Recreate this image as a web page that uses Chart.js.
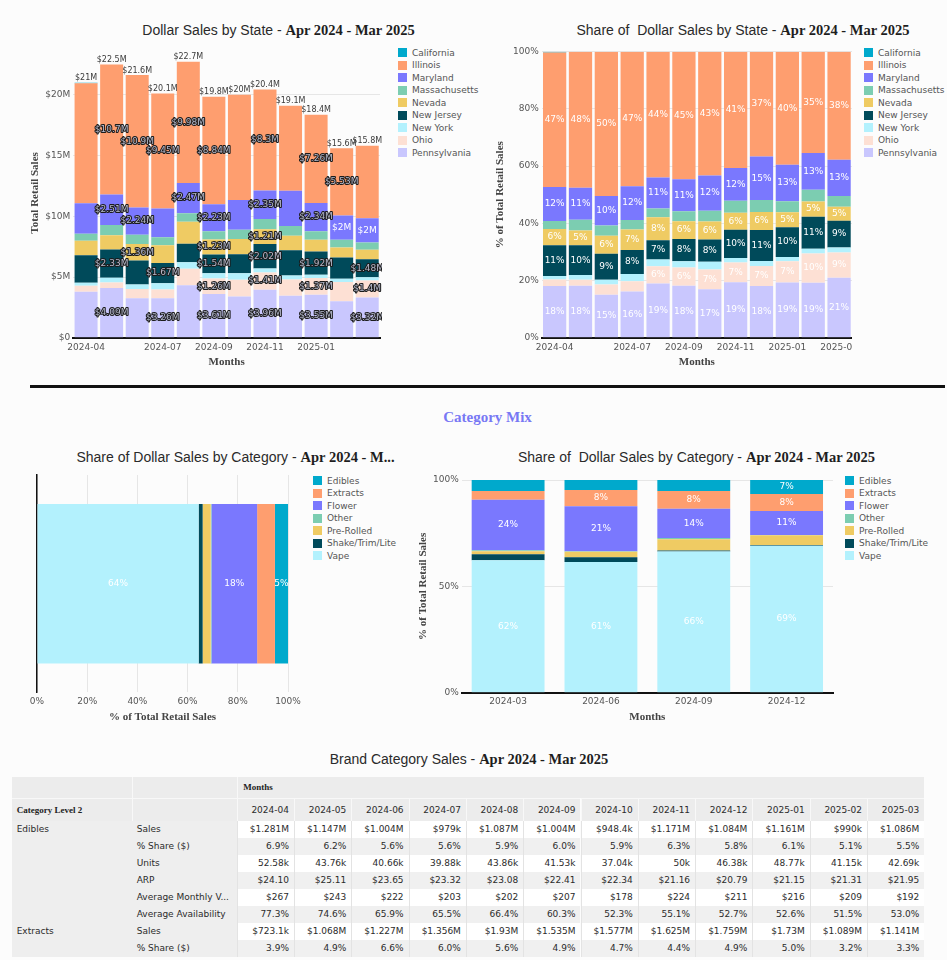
<!DOCTYPE html>
<html><head><meta charset="utf-8">
<script src="https://cdn.jsdelivr.net/npm/chart.js@4.4.1/dist/chart.umd.min.js"></script>
<style>
html,body{margin:0;padding:0;}
body{width:947px;height:960px;overflow:hidden;background:#fcfcfc;position:relative;font-family:'DejaVu Sans',sans-serif;}
.cv{position:absolute;}
.title{position:absolute;width:700px;text-align:center;white-space:pre;font-family:'Liberation Sans',Arial,sans-serif;font-size:14px;color:#2a2a2a;line-height:18px;}
.title b{font-family:'Liberation Serif','Times New Roman',serif;font-size:14.5px;font-weight:bold;color:#1e1e1e;}
.legend{position:absolute;font-family:'DejaVu Sans',sans-serif;font-size:9px;color:#555;}
.legend .li{height:12.5px;line-height:12.5px;white-space:nowrap;display:flex;align-items:center;}
.legend .sw{display:inline-block;width:9px;height:9px;margin-right:5px;flex:none;}
.cell{position:absolute;box-sizing:border-box;font-family:'DejaVu Sans',sans-serif;font-size:9px;color:#2b2b2b;white-space:nowrap;overflow:hidden;padding:0 5px;}
.serifb{font-family:'Liberation Serif','Times New Roman',serif;font-weight:bold;color:#222;}
</style>
</head><body>

<div class="title" style="left:-71.5px;top:20.5px;">Dollar Sales by State - <b>Apr 2024 - Mar 2025</b></div>
<div class="title" style="left:393px;top:20.5px;">Share of  Dollar Sales by State - <b>Apr 2024 - Mar 2025</b></div>
<div style="position:absolute;left:30px;top:385px;width:915px;height:3px;background:#111;"></div>
<div class="title" style="left:137.5px;top:408px;"><b style="font-size:15px;color:#7878f4;">Category Mix</b></div>
<div class="title" style="left:-114.5px;top:448px;">Share of Dollar Sales by Category - <b>Apr 2024 - M...</b></div>
<div class="title" style="left:346.5px;top:448px;">Share of  Dollar Sales by Category - <b>Apr 2024 - Mar 2025</b></div>
<div class="title" style="left:119px;top:750px;">Brand Category Sales - <b>Apr 2024 - Mar 2025</b></div>

<canvas id="c1" class="cv" width="357" height="333" style="left:25px;top:40px;"></canvas>
<canvas id="c2" class="cv" width="362" height="333" style="left:490px;top:40px;"></canvas>
<canvas id="c3" class="cv" width="305" height="258" style="left:0px;top:470px;"></canvas>
<canvas id="c4" class="cv" width="422" height="258" style="left:413px;top:470px;"></canvas>

<div id="lg1" class="legend" style="left:398px;top:46.5px;"></div>
<div id="lg2" class="legend" style="left:864px;top:46.5px;"></div>
<div id="lg3" class="legend" style="left:313px;top:474.5px;"></div>
<div id="lg4" class="legend" style="left:845px;top:474.5px;"></div>
<div id="tbl"></div>

<script>
// ---------- DATA ----------
const months = ['2024-04','2024-05','2024-06','2024-07','2024-08','2024-09','2024-10','2024-11','2024-12','2025-01','2025-02','2025-03'];
const monthTicksLeft = ['2024-04','2024-07','2024-09','2024-11','2025-01'];
const monthTicksRight = ['2024-04','2024-07','2024-09','2024-11','2025-01','2025-03'];

// Dollar sales by state, $M (legend order: top of stack first)
const stateNames = ['California','Illinois','Maryland','Massachusetts','Nevada','New Jersey','New York','Ohio','Pennsylvania'];
const california    = [0.06,0,0,0,0,0,0,0,0,0,0,0];
const illinois      = [9.87,10.7,10.9,9.45,9.98,8.84,8.65,8.3,7.0,7.26,5.53,5.97];
const maryland      = [2.50,2.51,2.24,2.38,2.47,2.23,2.46,2.35,2.90,2.34,2.0,2.0];
const massachusetts = [0.59,0.85,0.76,0.66,0.70,0.69,0.76,0.85,0.80,0.70,0.64,0.60];
const nevada        = [1.18,1.17,1.36,1.45,1.82,1.23,1.26,1.21,1.20,0.96,0.83,0.77];
const newJersey     = [2.27,2.33,1.97,1.67,1.52,1.54,1.56,2.02,2.08,1.92,1.75,1.48];
const newYork       = [0.25,0.38,0.37,0.51,0.54,0.44,0.53,0.33,0.32,0.26,0.25,0.27];
const ohio          = [0.48,0.47,0.76,0.72,1.36,1.26,1.38,1.41,1.34,1.37,1.6,1.4];
const pennsylvania  = [3.80,4.09,3.26,3.26,4.32,3.61,3.40,3.96,3.46,3.55,3.0,3.32];
const stateSales = [california,illinois,maryland,massachusetts,nevada,newJersey,newYork,ohio,pennsylvania];

// which dollar labels are printed in the reference (0 none, 1 outlined, 2 white)
const labelShownIllinois = [0,1,1,1,1,1,0,1,0,1,1,0];
const labelShownMaryland = [0,1,1,0,1,1,0,1,0,1,2,2];
const labelShownNevada   = [0,0,1,0,0,1,0,1,0,0,0,0];
const labelShownNewJersey= [0,1,0,1,0,1,0,1,0,1,0,1];
const labelShownOhio     = [0,0,0,0,0,1,0,1,0,1,0,1];
const labelShownPenn     = [0,1,0,1,0,1,0,1,0,1,0,1];
const none12 = [0,0,0,0,0,0,0,0,0,0,0,0];
const stateLabelShown = [none12,labelShownIllinois,labelShownMaryland,none12,labelShownNevada,labelShownNewJersey,none12,labelShownOhio,labelShownPenn];

// Category mix (% of total retail sales), legend order
const catNames = ['Edibles','Extracts','Flower','Other','Pre-Rolled','Shake/Trim/Lite','Vape'];
const catShareTotal = [5.2,7.1,18.2,0.3,3.2,1.6,64.4];
const catTotalLabelShown = [1,0,1,0,0,0,1];
const quarters = ['2024-03','2024-06','2024-09','2024-12'];
const qEdibles   = [5.2,4.7,5.2,6.6];
const qExtracts  = [4.1,7.6,8.3,8.0];
const qFlower    = [23.7,21.2,13.8,11.3];
const qOther     = [0.5,0.2,0.5,0.1];
const qPreRolled = [1.4,2.6,5.3,4.6];
const qShake     = [2.8,2.3,0.5,0.3];
const qVape      = [62.3,61.4,66.4,69.1];
const catQuarter = [qEdibles,qExtracts,qFlower,qOther,qPreRolled,qShake,qVape];

// Table data
const tblMetrics = ['Sales','% Share ($)','Units','ARP','Average Monthly V...','Average Availability'];
const edSales  = [1281000,1147000,1004000,979000,1087000,1004000,948400,1171000,1084000,1161000,990000,1086000];
const edShare  = [6.9,6.2,5.6,5.6,5.9,6.0,5.9,6.3,5.8,6.1,5.1,5.5];
const edUnits  = [52580,43760,40660,39880,43860,41530,37040,50000,46380,48770,41150,42690];
const edARP    = [24.10,25.11,23.65,23.32,23.08,22.41,22.34,21.16,20.79,21.15,21.31,21.95];
const edAvgMon = [267,243,222,203,202,207,178,224,211,216,209,192];
const edAvail  = [77.3,74.6,65.9,65.5,66.4,60.3,52.3,55.1,52.7,52.6,51.5,53.0];
const exSales  = [723100,1068000,1227000,1356000,1930000,1535000,1577000,1625000,1759000,1730000,1089000,1141000];
const exShare  = [3.9,4.9,6.6,6.0,5.6,4.9,4.7,4.4,4.9,5.0,3.2,3.3];

// ---------- STYLE ----------
const palette = ['#00a9cc','#fe9e6f','#7a78fe','#7ccdb1','#efcb63','#004a5a','#b3f1fd','#fde0d4','#c9c7fe'];
Chart.defaults.font.family = "'DejaVu Sans', sans-serif";
Chart.defaults.font.size = 9;
Chart.defaults.color = '#555';
const axisTitleFont = {family:"'Liberation Serif','Times New Roman',serif", weight:'bold', size:11};
const axisTitleColor = '#444';
const gridColor = '#e6e6e6';

function fix(size){
  return function(s){
    if (s.isHorizontal()) s.height = size; else s.width = size;
    s.paddingLeft = 0; s.paddingRight = 0; s.paddingTop = 0; s.paddingBottom = 0;
  };
}
function sig(v,p){ return String(parseFloat(v.toPrecision(p))); }
function fmtM(v){ return '$' + sig(v,3) + 'M'; }

function labelPlugin(id, getLabel, extra){
  return { id, afterDatasetsDraw(chart){
    const ctx = chart.ctx; ctx.save();
    ctx.textAlign = 'center'; ctx.textBaseline = 'middle';
    chart.data.datasets.forEach((ds,di)=>{
      const meta = chart.getDatasetMeta(di);
      meta.data.forEach((el,i)=>{
        const L = getLabel(di,i); if(!L) return;
        const p = el.getCenterPoint();
        ctx.font = L.font || "9px 'DejaVu Sans'";
        if (L.stroke){ ctx.lineJoin='round'; ctx.lineWidth = L.lw || 2; ctx.strokeStyle = L.stroke; ctx.strokeText(L.text,p.x,p.y); }
        ctx.fillStyle = L.color; ctx.fillText(L.text,p.x,p.y);
      });
    });
    if (extra) extra(chart, ctx);
    ctx.restore();
  }};
}

function buildLegend(elId, names){
  const el = document.getElementById(elId);
  names.forEach((n,k)=>{
    const d = document.createElement('div'); d.className='li';
    const s = document.createElement('span'); s.className='sw'; s.style.background = palette[k];
    d.appendChild(s); d.appendChild(document.createTextNode(n)); el.appendChild(d);
  });
}
buildLegend('lg1', stateNames);
buildLegend('lg2', stateNames);
buildLegend('lg3', catNames);
buildLegend('lg4', catNames);

const totals = months.map((m,i)=> stateSales.reduce((a,s)=>a+s[i],0));
const stateShares = stateSales.map(s=> s.map((v,i)=> v/totals[i]*100));

// stacking: bottom dataset first => reverse legend order
const order = stateNames.map((_,k)=>k).reverse();

// ---------- Chart 1: Dollar sales by state ----------
new Chart(document.getElementById('c1'), {
  type:'bar',
  data:{ labels: months, datasets: order.map(k=>({ label: stateNames[k], data: stateSales[k], backgroundColor: palette[k], borderWidth:0, barPercentage:0.9, categoryPercentage:1 })) },
  options:{
    responsive:false, animation:false, events:[],
    layout:{padding:{top:8,right:2,left:0,bottom:0}},
    plugins:{legend:{display:false}, tooltip:{enabled:false}},
    scales:{
      x:{ stacked:true, grid:{display:false,drawTicks:false}, border:{color:'#111',width:2},
          ticks:{autoSkip:false,maxRotation:0,padding:4,callback:(v,i)=> monthTicksLeft.includes(months[i]) ? months[i] : ''},
          title:{display:true,text:'Months',font:axisTitleFont,color:axisTitleColor}, afterFit:fix(35.2) },
      y:{ stacked:true, min:0, max:23.85, grid:{color:gridColor,drawTicks:false}, border:{display:false},
          ticks:{stepSize:5,includeBounds:false,padding:3,callback:v=> v===0 ? '$0' : '$'+v+'M'},
          title:{display:true,text:'Total Retail Sales',font:axisTitleFont,color:axisTitleColor}, afterFit:fix(48.3) }
    }
  },
  plugins:[labelPlugin('lbl1',(di,i)=>{
    const k = order[di]; const mode = stateLabelShown[k][i];
    if (!mode) return null;
    const t = fmtM(stateSales[k][i]);
    if (mode===2) return {text:t,color:'#ffffff'};
    return {text:t,color:'#b4b8ca',stroke:'#1b1b1b',lw:2};
  },(chart,ctx)=>{
    const y = chart.scales.y; const x = chart.scales.x;
    ctx.font = "8px 'DejaVu Sans'"; ctx.textBaseline='bottom'; ctx.fillStyle='#3a3a3a';
    totals.forEach((t,i)=>{ ctx.fillText(fmtM(t), x.getPixelForValue(i), y.getPixelForValue(t)-0.5); });
  })]
});

// ---------- Chart 2: Share by state ----------
new Chart(document.getElementById('c2'), {
  type:'bar',
  data:{ labels: months, datasets: order.map(k=>({ label: stateNames[k], data: stateShares[k], backgroundColor: palette[k], borderWidth:0, barPercentage:0.9, categoryPercentage:1 })) },
  options:{
    responsive:false, animation:false, events:[],
    layout:{padding:{top:11.7,right:0,left:0,bottom:0}},
    plugins:{legend:{display:false}, tooltip:{enabled:false}},
    scales:{
      x:{ stacked:true, grid:{display:false,drawTicks:false}, border:{color:'#111',width:2},
          ticks:{autoSkip:false,maxRotation:0,padding:4,callback:(v,i)=> monthTicksRight.includes(months[i]) ? months[i] : ''},
          title:{display:true,text:'Months',font:axisTitleFont,color:axisTitleColor}, afterFit:fix(35.2) },
      y:{ stacked:true, min:0, max:100, grid:{color:gridColor,drawTicks:false}, border:{display:false},
          ticks:{stepSize:20,padding:3,callback:v=> v+'%'},
          title:{display:true,text:'% of Total Retail Sales',font:axisTitleFont,color:axisTitleColor}, afterFit:fix(51.7) }
    }
  },
  plugins:[labelPlugin('lbl2',(di,i)=>{
    const k = order[di]; const p = stateShares[k][i];
    if (p < 4.5) return null;
    return {text: Math.round(p)+'%', color:'#ffffff'};
  })]
});

// ---------- Chart 3: Category share, total (horizontal) ----------
const corder = catNames.map((_,k)=>k).reverse();
new Chart(document.getElementById('c3'), {
  type:'bar',
  data:{ labels:[''], datasets: corder.map(k=>({ label: catNames[k], data:[catShareTotal[k]], backgroundColor: palette[k], borderWidth:0, barPercentage:0.733, categoryPercentage:1 })) },
  options:{
    indexAxis:'y', responsive:false, animation:false, events:[],
    layout:{padding:{top:5,right:17,left:37,bottom:0}},
    plugins:{legend:{display:false}, tooltip:{enabled:false}},
    scales:{
      x:{ stacked:true, min:0, max:100, grid:{color:gridColor,drawTicks:false}, border:{display:false},
          ticks:{stepSize:20,padding:4,callback:v=> v+'%'},
          title:{display:true,text:'% of Total Retail Sales',font:axisTitleFont,color:axisTitleColor}, afterFit:fix(35.6) },
      y:{ stacked:true, grid:{display:false,drawTicks:false}, border:{color:'#111',width:1.5}, ticks:{display:false}, afterFit:fix(0) }
    }
  },
  plugins:[labelPlugin('lbl3',(di,i)=>{
    const k = corder[di];
    if (!catTotalLabelShown[k]) return null;
    return {text: Math.round(catShareTotal[k])+'%', color:'#ffffff'};
  })]
});

// ---------- Chart 4: Category share by quarter ----------
new Chart(document.getElementById('c4'), {
  type:'bar',
  data:{ labels: quarters, datasets: corder.map(k=>({ label: catNames[k], data: catQuarter[k], backgroundColor: palette[k], borderWidth:0, barPercentage:0.785, categoryPercentage:1 })) },
  options:{
    responsive:false, animation:false, events:[],
    layout:{padding:{top:10,right:2,left:0,bottom:0}},
    plugins:{legend:{display:false}, tooltip:{enabled:false}},
    scales:{
      x:{ stacked:true, grid:{display:false,drawTicks:false}, border:{color:'#111',width:2},
          ticks:{autoSkip:false,maxRotation:0,padding:4},
          title:{display:true,text:'Months',font:axisTitleFont,color:axisTitleColor}, afterFit:fix(35.3) },
      y:{ stacked:true, min:0, max:100, grid:{color:gridColor,drawTicks:false}, border:{display:false},
          ticks:{stepSize:50,padding:3,callback:v=> v+'%'},
          title:{display:true,text:'% of Total Retail Sales',font:axisTitleFont,color:axisTitleColor}, afterFit:fix(48.7) }
    }
  },
  plugins:[labelPlugin('lbl4',(di,i)=>{
    const k = corder[di]; const p = catQuarter[k][i];
    if (p < 6) return null;
    return {text: Math.round(p)+'%', color:'#ffffff'};
  })]
});

// ---------- Table ----------
function fmtMoneyK(v){ return v>=1e6 ? '$'+sig(v/1e6,4)+'M' : '$'+sig(v/1e3,4)+'k'; }
function fmtK(v){ return sig(v/1e3,4)+'k'; }
const edRows = [edSales.map(fmtMoneyK), edShare.map(v=>v.toFixed(1)+'%'), edUnits.map(fmtK), edARP.map(v=>'$'+v.toFixed(2)), edAvgMon.map(v=>'$'+v), edAvail.map(v=>v.toFixed(1)+'%')];
const exRows = [exSales.map(fmtMoneyK), exShare.map(v=>v.toFixed(1)+'%')];
const tbl = document.getElementById('tbl');
const X0 = 11.7, W1 = 120, W2 = 105, WM = 57.3, MX = X0+W1+W2;
function cell(x,y,w,h,text,bg,align,cls,extra){
  const d = document.createElement('div'); d.className = 'cell' + (cls? ' '+cls : '');
  d.style.left = x+'px'; d.style.top = y+'px'; d.style.width = w+'px'; d.style.height = h+'px';
  d.style.lineHeight = h+'px'; d.style.background = bg; d.style.textAlign = align || 'left';
  if (extra) Object.assign(d.style, extra);
  d.textContent = text; tbl.appendChild(d);
}
const hb = '#ececec', cb = '#eeeeee';
cell(X0,777.3,W1,21,'',hb);
cell(X0+W1,777.3,W2,21,'',hb,'left','',{borderLeft:'1px solid #f8f8f8'});
cell(MX,777.3,WM*12,21,'Months',hb,'left','serifb',{borderLeft:'1px solid #f8f8f8',paddingLeft:'5.6px'});
cell(X0,798.3,W1,22.4,'Category Level 2',hb,'left','serifb',{borderTop:'1px solid #f8f8f8'});
cell(X0+W1,798.3,W2,22.4,'',hb,'left','',{borderLeft:'1px solid #f8f8f8',borderTop:'1px solid #f8f8f8'});
months.forEach((m,j)=> cell(MX+j*WM,798.3,WM,22.4,m,hb,'right','',{borderLeft:'1px solid #f8f8f8',borderTop:'1px solid #f8f8f8'}));
const groups = [['Edibles',edRows],['Extracts',exRows]];
let r = 0;
groups.forEach(([name,rows])=>{
  rows.forEach((vals,ri)=>{
    const y = 820.7 + r*17;
    cell(X0,y,W1,17, ri===0 ? name : '', cb);
    cell(X0+W1,y,W2,17, tblMetrics[ri], cb);
    vals.forEach((v,j)=> cell(MX+j*WM,y,WM,17,v, r%2===0 ? '#ffffff' : '#f0f0f0','right','',{borderLeft:'1px solid #e3e3e3'}));
    r++;
  });
});
</script>
</body></html>
